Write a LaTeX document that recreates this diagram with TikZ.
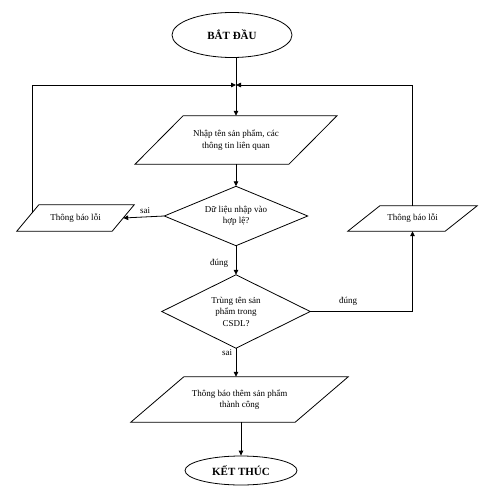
\documentclass[tikz,border=0pt]{standalone}
\usepackage{fontspec}
\setmainfont{Liberation Serif}
\usetikzlibrary{arrows.meta,shapes.geometric}
\newcommand\paraframe[2]{\draw[frameline] ([xshift=#2]#1.north west) -- ([xshift=#2]#1.north east) -- ([xshift=-#2]#1.south east) -- ([xshift=-#2]#1.south west) -- cycle;}
\newcommand\diamframe[1]{\draw[frameline] (#1.north) -- (#1.east) -- (#1.south) -- (#1.west) -- cycle;}
\tikzset{
  frameline/.style={line width=0.8pt, line join=miter},
  txt/.style={font=\fontsize{9}{11.5}\selectfont, align=center, inner sep=0pt},
  term/.style={ellipse, draw, line width=0.8pt, inner sep=0pt, font=\fontsize{11}{13}\selectfont\bfseries},
  boxshape/.style={txt, rectangle, minimum width=#1},
  lbl/.style={font=\fontsize{9}{11}\selectfont, inner sep=0pt},
  arr/.style={line width=0.8pt, -{Triangle[length=5pt,width=4.5pt]}},
  conn/.style={line width=0.8pt}
}
\begin{document}
\begin{tikzpicture}[x=1pt,y=-1pt]
\useasboundingbox (0,0) rectangle (484,495);
% nodes
\node[term, minimum width=120pt, minimum height=45pt] (start) at (232,35) {BẮT ĐẦU};
\coordinate (junc) at (236,85);
\node[boxshape=153.5pt, minimum height=48pt] (p1) at (236,140) {Nhập tên sản phẩm, các\\thông tin liên quan};
\paraframe{p1}{24pt}
\node[boxshape=143pt, minimum height=59pt] (d1) at (236,216) {Dữ liệu nhập vào\\hợp lệ?};
\diamframe{d1}
\node[boxshape=95pt, minimum height=26pt] (lp) at (75.5,218) {Thông báo lỗi};
\paraframe{lp}{11pt}
\node[boxshape=97pt, minimum height=25pt] (rp) at (412.5,218.5) {Thông báo lỗi};
\paraframe{rp}{16pt}
\node[boxshape=148pt, minimum height=73pt] (d2) at (236,311.5) {Trùng tên sản\\phẩm trong\\CSDL?};
\diamframe{d2}
\node[boxshape=164pt, minimum height=45pt] (p3) at (239.5,399.5) {Thông báo thêm sản phẩm\\thành công};
\paraframe{p3}{26.5pt}
\node[term, minimum width=112pt, minimum height=29pt] (end) at (241,470.5) {KẾT THÚC};
\coordinate (lpin) at (32,213.3);
% labels
\node[lbl] (lsai1) at (145,211) {sai};
\node[lbl] (ldung1) at (219,263) {đúng};
\node[lbl] (ldung2) at (348,301) {đúng};
\node[lbl] (lsai2) at (227,353) {sai};
% connectors
\draw[conn] (start.south -| junc) -- (junc);
\draw[arr] (junc) -- (p1.north);
\draw[arr] (p1.south) -- (d1.north);
\draw[arr] (d1.west) -- (lp.east);
\draw[arr] (lpin) |- (junc);
\draw[arr] (rp.north) |- (junc);
\draw[arr] (d1.south) -- (d2.north);
\draw[arr] (d2.east) -| (rp.south);
\draw[arr] (d2.south) -- (d2.south |- p3.north);
\draw[arr] (p3.south -| end) -- (end.north);
\end{tikzpicture}
\end{document}
